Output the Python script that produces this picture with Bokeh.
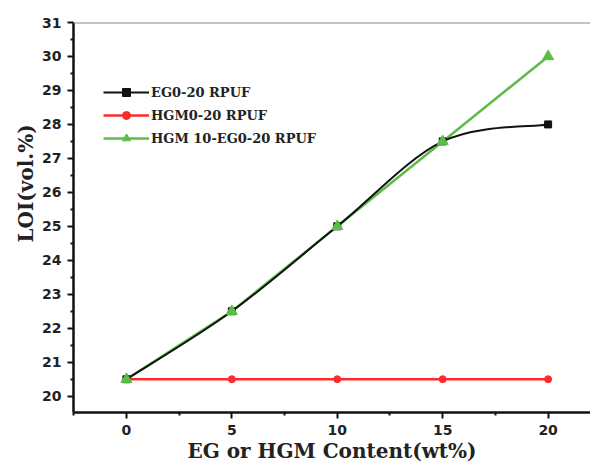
from bokeh.plotting import figure
from bokeh.models import Range1d, Legend, LegendItem, Span, FixedTicker, ColumnDataSource, Title
from bokeh.embed import file_html
from bokeh.resources import INLINE

content = [0, 5, 10, 15, 20]
eg_loi = [20.5, 22.5, 25.0, 27.5, 28.0]
hgm_loi = [20.5, 20.5, 20.5, 20.5, 20.5]
hgm_eg_loi = [20.5, 22.5, 25.0, 27.5, 30.0]
x_ticks = [0, 5, 10, 15, 20]
y_ticks = list(range(20, 32))
labels = ["EG0-20 RPUF", "HGM0-20 RPUF", "HGM 10-EG0-20 RPUF"]

BLACK = "#111111"
RED = "#ff2a2a"
GREEN = "#5cbc45"

p = figure(frame_width=517, frame_height=390, output_backend="svg", toolbar_location=None,
           x_range=Range1d(-2.51, 22.01), y_range=Range1d(19.52, 31.0),
           min_border_left=73, min_border_right=0, min_border_top=22, min_border_bottom=50)
p.outline_line_color = None
p.xgrid.visible = False
p.ygrid.visible = False
p.background_fill_color = "white"

# smooth curve segments (Catmull-Rom -> Bezier) derived from the data
def bezier_segments(xs, ys):
    n = len(xs)
    px = [xs[0]] + list(xs) + [xs[-1]]
    py = [ys[0]] + list(ys) + [ys[-1]]
    seg = dict(x0=[], y0=[], x1=[], y1=[], cx0=[], cy0=[], cx1=[], cy1=[])
    for i in range(1, n):
        seg["x0"].append(px[i]); seg["y0"].append(py[i])
        seg["x1"].append(px[i + 1]); seg["y1"].append(py[i + 1])
        seg["cx0"].append(px[i] + (px[i + 1] - px[i - 1]) / 6)
        seg["cy0"].append(py[i] + (py[i + 1] - py[i - 1]) / 6)
        seg["cx1"].append(px[i + 1] - (px[i + 2] - px[i]) / 6)
        seg["cy1"].append(py[i + 1] - (py[i + 2] - py[i]) / 6)
    return seg

r_line = p.line(content, hgm_loi, line_color=RED, line_width=2.5)
r_mark = p.scatter(content, hgm_loi, marker="circle", size=7, color=RED)
g_line = p.line(content, hgm_eg_loi, line_color=GREEN, line_width=2.5)
seg = ColumnDataSource(bezier_segments(content, eg_loi))
k_line = p.bezier(x0="x0", y0="y0", x1="x1", y1="y1", cx0="cx0", cy0="cy0", cx1="cx1", cy1="cy1",
                  source=seg, line_color=BLACK, line_width=2)
k_mark = p.scatter(content, eg_loi, marker="square", size=7, color=BLACK)
g_mark = p.scatter(content, hgm_eg_loi, marker="triangle", size=11, color=GREEN)

legend = Legend(items=[
    LegendItem(label=labels[0], renderers=[k_line, k_mark]),
    LegendItem(label=labels[1], renderers=[r_line, r_mark]),
    LegendItem(label=labels[2], renderers=[g_line, g_mark]),
], location=(30, 264))
legend.border_line_color = None
legend.background_fill_alpha = 0
legend.padding = 0
legend.margin = 0
legend.spacing = 3
legend.label_height = 20
legend.glyph_height = 20
legend.glyph_width = 46
legend.label_standoff = 2
legend.label_text_font = "DejaVu Serif"
legend.label_text_font_style = "bold"
legend.label_text_font_size = "13px"
legend.label_text_color = "#222222"
p.add_layout(legend, "center")

p.add_layout(Span(location=31.0, dimension="width", line_color="#888888", line_width=2))

for ax in (p.xaxis[0], p.yaxis[0]):
    ax.axis_line_width = 2.5
    ax.axis_line_color = BLACK
    ax.major_tick_line_width = 2
    ax.minor_tick_line_width = 2
    ax.major_tick_line_color = BLACK
    ax.minor_tick_line_color = BLACK
    ax.major_tick_out = 6
    ax.major_tick_in = 0
    ax.minor_tick_out = 3
    ax.minor_tick_in = 0
    ax.major_label_text_font = "DejaVu Sans"
    ax.major_label_text_font_style = "bold"
    ax.major_label_text_font_size = "14px"
    ax.major_label_text_color = "#222222"
    ax.axis_label_text_font = "DejaVu Serif"
    ax.axis_label_text_font_style = "bold"
    ax.axis_label_text_font_size = "20px"
    ax.axis_label_text_color = "#222222"

p.xaxis.ticker = FixedTicker(ticks=x_ticks, minor_ticks=[-2.5, 2.5, 7.5, 12.5, 17.5])
p.yaxis.ticker = FixedTicker(ticks=y_ticks, minor_ticks=[v + 0.5 for v in range(19, 31)])
p.xaxis.axis_label = "EG or HGM Content(wt%)"
p.xaxis.axis_label_standoff = 1
p.xaxis.major_label_standoff = 6
p.yaxis.major_label_standoff = 6

# y-axis title, shifted above the centre as in the reference
p.add_layout(Title(text="LOI(vol.%)", align="left", offset=170, standoff=4,
                   text_font="DejaVu Serif", text_font_style="bold", text_font_size="20px",
                   text_color="#222222"), "left")

open("out.html", "w").write(file_html(p, INLINE))
